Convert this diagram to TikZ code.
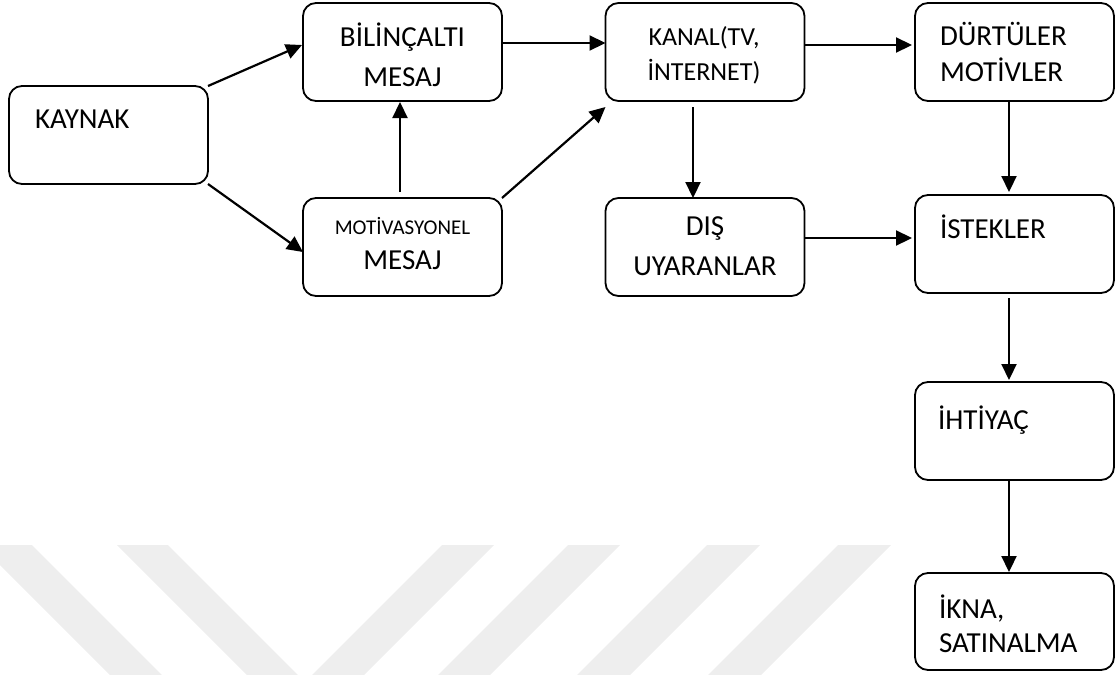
\documentclass[tikz,border=0pt]{standalone}
\usepackage{fontspec}
\setmainfont{Carlito}
\usetikzlibrary{arrows.meta}
\definecolor{wm}{HTML}{EEEEEE}
\begin{document}
\begin{tikzpicture}[x=1pt,y=-1pt,
  box/.style={draw=black, line width=1.8pt, rounded corners=13pt, minimum width=199pt, minimum height=98pt, inner sep=0pt, outer sep=0pt},
  txt/.style={inner sep=0pt, outer sep=0pt, font=\fontsize{29}{35}\selectfont},
  smalltxt/.style={inner sep=0pt, outer sep=0pt, font=\fontsize{21}{25}\selectfont},
  midtxt/.style={inner sep=0pt, outer sep=0pt, font=\fontsize{26}{31}\selectfont},
  arr/.style={draw=black, line width=2.2pt, -{Triangle[length=16pt,width=15pt]}},
  stripe/.style={fill=wm, draw=none}]
\useasboundingbox (0,0) rectangle (1120,675);
% watermark stripes
\begin{scope}
\clip (0,0) rectangle (1120,675);
\fill[stripe] (-20,545) -- (32,545) -- (162,675) -- (110,675) -- cycle;
\fill[stripe] (117,545) -- (168,545) -- (298,675) -- (247,675) -- cycle;
\fill[stripe] (442,545) -- (494,545) -- (364,675) -- (312,675) -- cycle;
\fill[stripe] (568,545) -- (620,545) -- (490,675) -- (438,675) -- cycle;
\fill[stripe] (707,545) -- (760,545) -- (630,675) -- (577,675) -- cycle;
\fill[stripe] (838,545) -- (891,545) -- (761,675) -- (708,675) -- cycle;
\end{scope}
% boxes
\node[box] (kaynak) at (108.5,135) {};
\node[box] (bil) at (402.5,52) {};
\node[box] (mot) at (402.5,247) {};
\node[box] (kanal) at (705,52) {};
\node[box] (dis) at (705,247) {};
\node[box] (durt) at (1014.5,52) {};
\node[box] (istek) at (1014.5,244) {};
\node[box] (ihti) at (1014.5,431) {};
\node[box, minimum height=97pt] (ikna) at (1014.5,621.5) {};
% texts
\node[txt, anchor=base west] (kaynakT) at (35,128) {KAYNAK};
\node[txt, anchor=base] (bilT1) at (402.5,46) {BİLİNÇALTI};
\node[txt, anchor=base] (bilT2) at (402.5,86) {MESAJ};
\node[smalltxt, anchor=base] (motT1) at (402.5,234) {MOTİVASYONEL};
\node[txt, anchor=base] (motT2) at (402.5,269) {MESAJ};
\node[midtxt, anchor=base] (kanalT1) at (704,45) {KANAL(TV,};
\node[midtxt, anchor=base] (kanalT2) at (704,80) {İNTERNET)};
\node[txt, anchor=base west] (durtT1) at (940,45) {DÜRTÜLER};
\node[txt, anchor=base west] (durtT2) at (940,81) {MOTİVLER};
\node[txt, anchor=base] (disT1) at (705,235) {DIŞ};
\node[txt, anchor=base] (disT2) at (705,275) {UYARANLAR};
\node[txt, anchor=base west] (istekT) at (940,238) {İSTEKLER};
\node[txt, anchor=base west] (ihtiT) at (938,429) {İHTİYAÇ};
\node[txt, anchor=base west] (iknaT1) at (939,618) {İKNA,};
\node[txt, anchor=base west] (iknaT2) at (939,652) {SATINALMA};
% connectors
\draw[arr] (kaynak.north east) -- ([xshift=-1pt,yshift=7pt]bil.west);
\draw[arr] (kaynak.south east) -- ([yshift=-5pt]mot.west);
\draw[arr] ([xshift=-2.5pt,yshift=6pt]mot.north) -- ([xshift=-2.5pt,yshift=-1pt]bil.south);
\draw[arr] ([yshift=9pt]bil.east) -- ([yshift=9pt]kanal.west);
\draw[arr] (mot.north east) -- ([yshift=-6pt]kanal.south west);
\draw[arr] ([yshift=7pt]kanal.east) -- ([xshift=-3pt,yshift=7pt]durt.west);
\draw[arr] ([xshift=-12pt,yshift=-6pt]kanal.south) -- ([xshift=-12pt]dis.north);
\draw[arr] ([xshift=-5.5pt]durt.south) -- ([xshift=-5.5pt,yshift=3pt]istek.north);
\draw[arr] ([yshift=9pt]dis.east) -- ([xshift=-3pt,yshift=6pt]istek.west);
\draw[arr] ([xshift=-5.5pt,yshift=-5pt]istek.south) -- ([xshift=-5.5pt,yshift=2pt]ihti.north);
\draw[arr] ([xshift=-5.5pt]ihti.south) -- ([xshift=-5.5pt,yshift=1pt]ikna.north);
\end{tikzpicture}
\end{document}
